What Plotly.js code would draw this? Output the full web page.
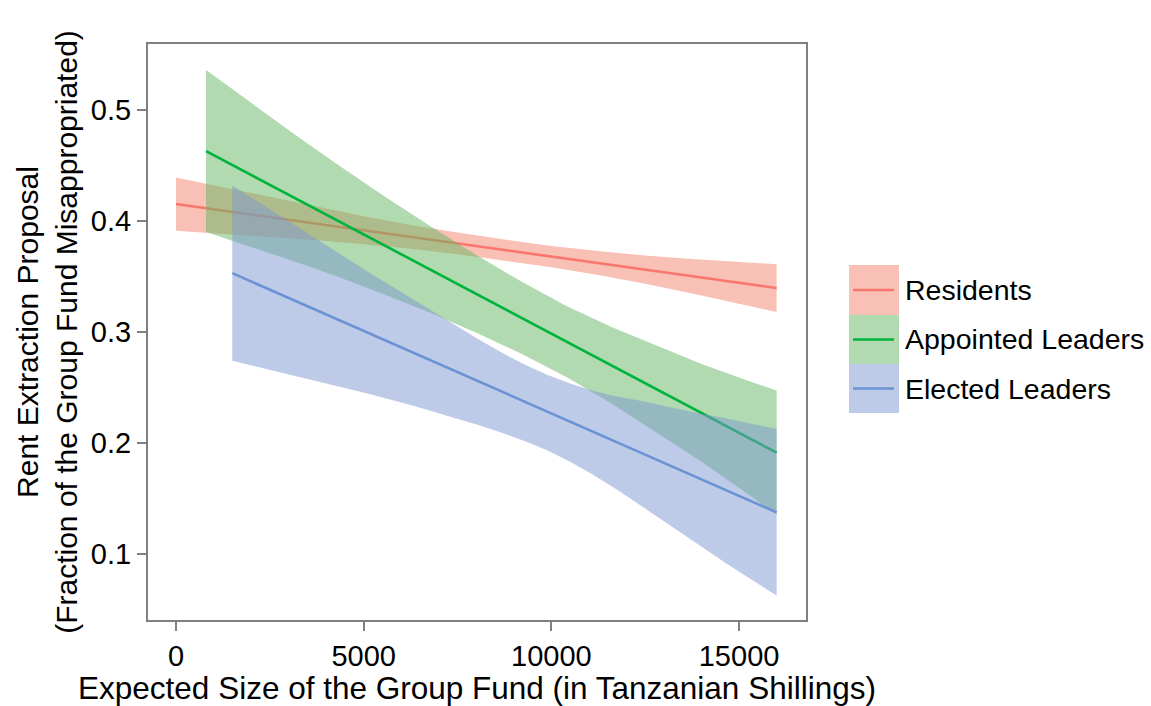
<!DOCTYPE html>
<html>
<head>
<meta charset="utf-8">
<script src="https://cdn.plot.ly/plotly-3.0.1.min.js"></script>
<style>
  html, body { margin: 0; padding: 0; background: #ffffff; }
  #chart { width: 1151px; height: 706px; }
</style>
</head>
<body>
<div id="chart"></div>
<script>
// ---- Data ----
const seriesNames = ["Residents", "Appointed Leaders", "Elected Leaders"];

const residentsX     = [0, 1250, 2500, 3750, 5000, 6250, 7500, 8750, 10000, 11250, 12500, 13750, 15000, 16000];
const residentsFit   = [0.4153, 0.4094, 0.4035, 0.3976, 0.3916, 0.3857, 0.3798, 0.3739, 0.3680, 0.3621, 0.3562, 0.3503, 0.3443, 0.3396];
const residentsUpper = [0.4393, 0.4304, 0.4215, 0.4126, 0.4042, 0.3965, 0.3896, 0.3834, 0.3776, 0.3729, 0.3690, 0.3658, 0.3629, 0.3611];
const residentsLower = [0.3913, 0.3884, 0.3855, 0.3826, 0.3790, 0.3749, 0.3700, 0.3644, 0.3584, 0.3513, 0.3434, 0.3348, 0.3257, 0.3181];

const appointedX     = [800, 2000, 3200, 4400, 5600, 6800, 8000, 9200, 10400, 11600, 12800, 14000, 15200, 16000];
const appointedFit   = [0.4630, 0.4416, 0.4201, 0.3987, 0.3772, 0.3558, 0.3343, 0.3129, 0.2914, 0.2700, 0.2485, 0.2271, 0.2056, 0.1913];
const appointedUpper = [0.5360, 0.5066, 0.4771, 0.4487, 0.4212, 0.3948, 0.3693, 0.3454, 0.3234, 0.3045, 0.2875, 0.2711, 0.2566, 0.2473];
const appointedLower = [0.3900, 0.3766, 0.3631, 0.3487, 0.3332, 0.3168, 0.2993, 0.2804, 0.2594, 0.2355, 0.2095, 0.1831, 0.1546, 0.1353];

const electedX     = [1500, 2700, 3900, 5100, 6300, 7500, 8100, 8700, 9300, 9900, 10500, 11100, 11700, 12300, 13500, 14700, 16000];
const electedFit   = [0.3530, 0.3352, 0.3173, 0.2995, 0.2817, 0.2638, 0.2549, 0.2460, 0.2371, 0.2282, 0.2193, 0.2103, 0.2014, 0.1925, 0.1747, 0.1568, 0.1375];
const electedUpper = [0.4320, 0.4062, 0.3803, 0.3545, 0.3297, 0.3050, 0.2925, 0.2810, 0.2705, 0.2612, 0.2535, 0.2470, 0.2422, 0.2385, 0.2297, 0.2218, 0.2125];
const electedLower = [0.2740, 0.2642, 0.2543, 0.2445, 0.2337, 0.2218, 0.2157, 0.2090, 0.2015, 0.1932, 0.1830, 0.1715, 0.1590, 0.1455, 0.1180, 0.0905, 0.0625];

const xTickVals = [0, 5000, 10000, 15000];
const yTickVals = [0.1, 0.2, 0.3, 0.4, 0.5];

// ---- Styles ----
const lineColors = ["#F8766D", "#00B33C", "#6A93D3"];
const fillColors = ["rgba(243,131,107,0.5)", "rgba(99,181,97,0.5)", "rgba(123,151,209,0.5)"];
const FONT = "Liberation Sans, Arial, sans-serif";

const groups = [
  {x: residentsX, fit: residentsFit, up: residentsUpper, lo: residentsLower},
  {x: appointedX, fit: appointedFit, up: appointedUpper, lo: appointedLower},
  {x: electedX,   fit: electedFit,   up: electedUpper,   lo: electedLower}
];

const traces = [];
groups.forEach((g, i) => {
  traces.push({x: g.x, y: g.up, type: "scatter", mode: "lines",
    line: {width: 0, color: "rgba(0,0,0,0)"}, showlegend: false, hoverinfo: "skip"});
  traces.push({x: g.x, y: g.lo, type: "scatter", mode: "lines", fill: "tonexty",
    fillcolor: fillColors[i], line: {width: 0, color: "rgba(0,0,0,0)"},
    showlegend: false, hoverinfo: "skip"});
  traces.push({x: g.x, y: g.fit, type: "scatter", mode: "lines", name: seriesNames[i],
    line: {width: 2.6, color: lineColors[i]}, showlegend: false});
});

// ---- Manual legend (large keys like the reference) ----
const L = 148, R = 806, T = 44, B = 620;
const px = v => (v - L) / (R - L);
const py = v => (B - v) / (B - T);
const keyTops = [265, 315, 364];
const keyBottoms = [315, 364, 413];
const shapes = [];
const annotations = [];
seriesNames.forEach((n, i) => {
  shapes.push({type: "rect", xref: "paper", yref: "paper",
    x0: px(849), x1: px(899), y0: py(keyBottoms[i]), y1: py(keyTops[i]),
    fillcolor: fillColors[i], line: {width: 0}});
  const cy = (keyTops[i] + keyBottoms[i]) / 2;
  shapes.push({type: "line", xref: "paper", yref: "paper",
    x0: px(853), x1: px(894), y0: py(cy), y1: py(cy),
    line: {color: lineColors[i], width: 2.6}});
  annotations.push({xref: "paper", yref: "paper", x: px(903), y: py(cy),
    xanchor: "left", yanchor: "middle", showarrow: false, text: n,
    font: {family: FONT, size: 28.5, color: "#000000"}});
});

const layout = {
  width: 1151, height: 706,
  margin: {l: L, r: 1151 - R, t: T, b: 706 - B, pad: 0},
  paper_bgcolor: "#ffffff", plot_bgcolor: "#ffffff",
  showlegend: false,
  hovermode: false,
  font: {family: FONT, color: "#000000"},
  xaxis: {
    range: [-746, 16783], tickvals: xTickVals, ticktext: xTickVals.map(String),
    ticks: "outside", ticklen: 9, tickwidth: 2, tickcolor: "#808080",
    showline: true, mirror: true, linecolor: "#808080", linewidth: 2,
    showgrid: false, zeroline: false,
    tickfont: {family: FONT, size: 29, color: "#000000"},
    title: {text: "Expected Size of the Group Fund (in Tanzanian Shillings)",
      font: {family: FONT, size: 31.5, color: "#000000"}, standoff: 0}
  },
  yaxis: {
    range: [0.0405, 0.5595], tickvals: yTickVals, ticktext: yTickVals.map(v => v.toFixed(1)),
    ticks: "outside", ticklen: 9, tickwidth: 2, tickcolor: "#808080",
    showline: true, mirror: true, linecolor: "#808080", linewidth: 2,
    showgrid: false, zeroline: false,
    tickfont: {family: FONT, size: 29, color: "#000000"},
    title: {text: "Rent Extraction Proposal<br>(Fraction of the Group Fund Misappropriated)",
      font: {family: FONT, size: 30, color: "#000000"}, standoff: 4}
  },
  shapes: shapes,
  annotations: annotations
};

Plotly.newPlot("chart", traces, layout, {displayModeBar: false, staticPlot: true});
</script>
</body>
</html>
